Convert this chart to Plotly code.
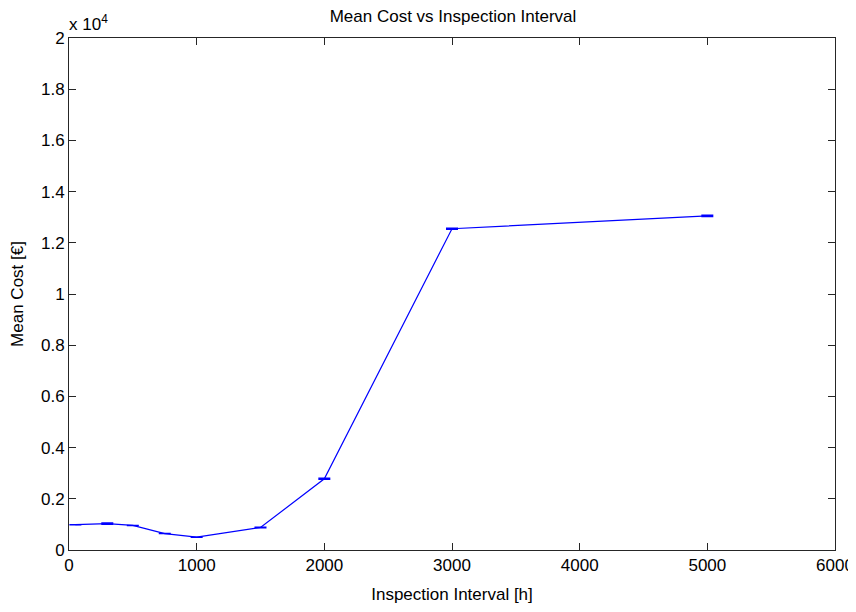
import plotly.graph_objects as go

# Data
interval_h = [50, 300, 500, 750, 1000, 1500, 2000, 3000, 5000]
mean_cost = [990, 1030, 960, 640, 500, 880, 2780, 12550, 13050]
cost_err = [0, 20, 0, 0, 0, 10, 20, 22, 22]

x_ticks = [0, 1000, 2000, 3000, 4000, 5000, 6000]
y_ticks = [0, 2000, 4000, 6000, 8000, 10000, 12000, 14000, 16000, 18000, 20000]
y_ticklabels = ["0", "0.2", "0.4", "0.6", "0.8", "1", "1.2", "1.4", "1.6", "1.8", "2"]

FONT = "Liberation Sans, Arial, sans-serif"
FS = 17
AX = "#262626"

# page body has an 8px default margin; figure sized to fit the 856x612 window
W, H = 848, 604

fig = go.Figure()
fig.add_trace(go.Scatter(
    x=interval_h, y=mean_cost, mode="lines",
    line=dict(color="#0000ff", width=1.2),
    error_y=dict(type="data", array=cost_err, visible=True,
                 color="#0000ff", thickness=1.5, width=6),
    showlegend=False, hoverinfo="skip",
))

axis_common = dict(
    showgrid=False, zeroline=False, showline=True, linecolor=AX, linewidth=1,
    mirror="ticks", ticks="inside", ticklen=7, tickcolor=AX, tickwidth=1,
    automargin=False, ticklabeloverflow="allow",
    tickfont=dict(family=FONT, size=FS, color="#000000"),
)

fig.update_layout(
    width=W, height=H,
    margin=dict(l=61, r=21, t=30, b=62),
    paper_bgcolor="white", plot_bgcolor="white",
    title=dict(text="Mean Cost vs Inspection Interval", x=(453 - 8) / W, xref="container",
               xanchor="center", y=1 - 8 / H, yref="container", yanchor="middle",
               font=dict(family=FONT, size=FS, color="#000000")),
    xaxis=dict(range=[0, 6000], tickvals=x_ticks, ticktext=[str(v) for v in x_ticks],
               title=dict(text="Inspection Interval [h]", standoff=13,
                          font=dict(family=FONT, size=FS, color="#000000")),
               **axis_common),
    yaxis=dict(range=[0, 20000], tickvals=y_ticks, ticktext=y_ticklabels,
               title=dict(text="Mean Cost [€]", standoff=14,
                          font=dict(family=FONT, size=FS, color="#000000")),
               **axis_common),
    annotations=[dict(text="x 10<sup>4</sup>", x=0, y=1, xref="paper", yref="paper",
                      xanchor="left", yanchor="bottom", showarrow=False,
                      xshift=-2, yshift=2,
                      font=dict(family=FONT, size=FS, color="#000000"))],
)

fig.write_html("out.html")
